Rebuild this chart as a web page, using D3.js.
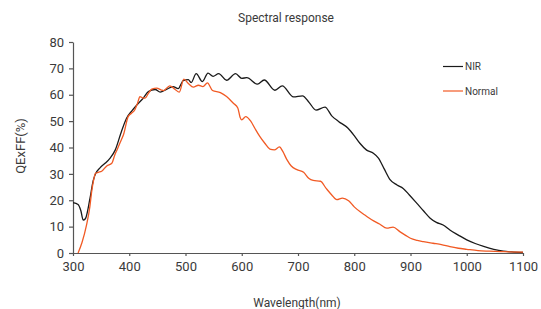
<!DOCTYPE html>
<html>
<head>
<meta charset="utf-8">
<script src="https://cdn.jsdelivr.net/npm/d3@7"></script>
<style>
html,body{margin:0;padding:0;background:#fff;}
svg{display:block;}
text{font-family:Roboto,"DejaVu Sans",sans-serif;fill:#3a3a3a;}
</style>
</head>
<body>
<svg id="chart" width="541" height="309"></svg>
<script>
const title = "Spectral response";
const xLabel = "Wavelength(nm)";
const yLabel = "QExFF(%)";
const xTicks = [300,400,500,600,700,800,900,1000,1100];
const yTicks = [0,10,20,30,40,50,60,70,80];
const seriesNames = ["NIR","Normal"];
const seriesColors = ["#1a1a1a","#f15a24"];

const nirWavelength = [300,309,314,318,322,330,336,340,348,357,366,375,386,395,405,413,424,434,446,455,466,478,487,496,505,510,519,530,540,549,559,573,589,600,609,628,640,659,672,692,708,720,732,748,760,772,789,800,810,822,834,843,853,864,876,887,898,911,923,935,946,958,970,985,1000,1015,1030,1048,1065,1080,1100];
const nirValues = [19.1,18.4,16,12.5,13,20.5,27.5,30,32.3,34,36,39,46,51,54,56,58.5,61.2,62,61,62,63.1,62.3,65.4,65.7,64.6,68,65,68.2,67,68,65.5,68,66.2,66.5,64,65.6,61.7,63.4,59.2,59.6,57,54.2,55.3,52,49.9,47.3,44.5,41.6,39,37.8,36,32,27.7,25.8,24.5,22,18.9,16,13.2,11.6,10.6,8.7,6.8,5.0,3.6,2.5,1.4,0.7,0.4,0.2];

const normalWavelength = [309,316,324,330,333,337,340,345,351,360,369,374,378,384,390,398,404,410,415,419,424,428,434,440,449,457,461,472,481,489,497,505,514,523,531,539,548,562,573,585,593,597,600,607,616,624,632,641,650,658,667,673,680,688,698,710,719,727,740,750,760,769,779,790,800,810,820,831,845,858,869,881,892,900,912,923,940,955,970,985,1000,1020,1040,1065,1100];
const normalValues = [0,4,10.6,17.6,23,28,30.2,30.6,31,33,34,37,39,42,45,51.7,53,54.3,57,59.3,58.8,58.7,60.5,62.1,62.5,61.8,61.6,63.4,62.1,61,65.9,64.3,62.9,63.6,63.1,64.5,61.6,60.8,59.3,56.8,55,51.5,50.5,51.7,50,47,44.2,41.6,39.4,39.1,40.2,38.5,35.5,33,31.6,30.6,28.3,27.5,27.2,24.5,22,20.2,20.8,19.8,17.5,15.7,14.2,12.6,11,9.4,9.8,8.1,6.6,5.6,4.8,4.3,3.7,3.2,2.4,1.8,1.4,0.9,0.7,0.5,0.3];

const svg = d3.select("#chart");
const mLeft = 73, mRight = 523, mTop = 42, mBottom = 253;

const x = d3.scaleLinear().domain([300,1100]).range([mLeft,mRight]);
const y = d3.scaleLinear().domain([0,80]).range([mBottom,mTop]);

// axes
const xAxis = svg.append("g").attr("transform",`translate(0,${mBottom})`)
  .call(d3.axisBottom(x).tickValues(xTicks).tickFormat(d3.format("d")).tickSize(3).tickSizeOuter(0).tickPadding(6));
const yAxis = svg.append("g").attr("transform",`translate(${mLeft},0)`)
  .call(d3.axisLeft(y).tickValues(yTicks).tickFormat(d3.format("d")).tickSize(4).tickSizeOuter(0).tickPadding(5));
[xAxis,yAxis].forEach(g=>{
  g.select(".domain").attr("stroke","#555").attr("stroke-width",1.2);
  g.selectAll(".tick line").attr("stroke","#555").attr("stroke-width",1.2);
  g.selectAll(".tick text").style("font-size","13px").style("fill","#3a3a3a").style("font-family","Roboto, sans-serif");
});

// lines
const line = d3.line().x(d=>x(d[0])).y(d=>y(d[1])).curve(d3.curveMonotoneX);
const nirData = nirWavelength.map((w,i)=>[w,nirValues[i]]);
const normalData = normalWavelength.map((w,i)=>[w,normalValues[i]]);
[nirData, normalData].forEach((data,i)=>{
  svg.append("path").datum(data).attr("d",line)
    .attr("fill","none").attr("stroke",seriesColors[i]).attr("stroke-width",1.3);
});

// title & labels
svg.append("text").attr("x",286).attr("y",22).attr("text-anchor","middle")
  .style("font-size","12px").text(title);
svg.append("text").attr("x",297).attr("y",307).attr("text-anchor","middle")
  .style("font-size","12px").text(xLabel);
svg.append("text").attr("transform","translate(25,146) rotate(-90)").attr("text-anchor","middle")
  .style("font-size","13px").text(yLabel);

// legend
const legY = [66.5, 91];
seriesNames.forEach((n,i)=>{
  svg.append("line").attr("x1",443).attr("x2",463).attr("y1",legY[i]).attr("y2",legY[i])
    .attr("stroke",seriesColors[i]).attr("stroke-width",1.2);
  svg.append("text").attr("x",465).attr("y",legY[i]+3.5).style("font-size","10px").text(n);
});
</script>
</body>
</html>
